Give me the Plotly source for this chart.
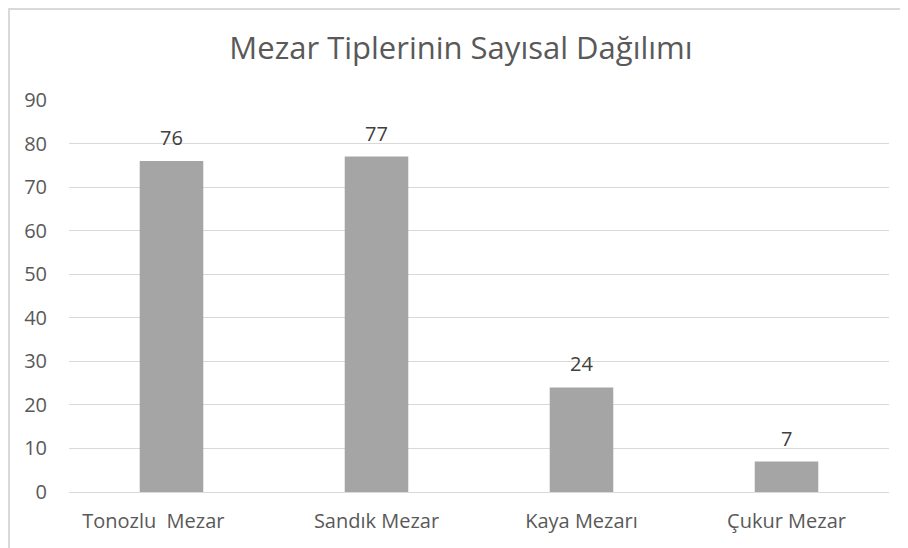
import plotly.graph_objects as go

# the first category carries trailing spaces in the source, which shifts its label left
categories = ["Tonozlu  Mezar       ", "Sandık Mezar", "Kaya Mezarı", "Çukur Mezar"]
values = [76, 77, 24, 7]
y_ticks = [0, 10, 20, 30, 40, 50, 60, 70, 80, 90]
title = "Mezar Tiplerinin Sayısal Dağılımı"

# page body has an 8px margin, so the figure is sized and placed to compensate
W, H = 900, 540
L, R, T, B = 61, 19, 92, 56
pw, ph = W - L - R, H - T - B

font = "Open Sans, Noto Sans, sans-serif"
txt = "#595959"

labels = [c.replace(" ", "\u00a0") for c in categories]

fig = go.Figure(go.Bar(
    x=labels,
    y=values,
    marker=dict(color="#a5a5a5", line=dict(width=0)),
    width=0.31,
    hoverinfo="y",
))

for c, v in zip(labels, values):
    fig.add_annotation(x=c, y=v, text=str(v), showarrow=False,
                       yanchor="bottom", yshift=8,
                       font=dict(family=font, size=20, color="#404040"))

fig.add_shape(type="rect", xref="paper", yref="paper",
              x0=(1 - L) / pw, x1=(W + 20 - L) / pw,
              y0=-(B + 20) / ph, y1=(H - 1 - B) / ph,
              line=dict(color="#d9d9d9", width=2), fillcolor="rgba(0,0,0,0)", layer="below")

fig.update_layout(
    width=W, height=H,
    margin=dict(l=L, r=R, t=T, b=B),
    paper_bgcolor="white", plot_bgcolor="white",
    title=dict(text=title, x=453 / W, xanchor="center", y=1 - 40 / H, yanchor="middle",
               font=dict(family=font, size=31, color=txt)),
    showlegend=False,
    xaxis=dict(showgrid=False, showline=False, zeroline=False, ticks="",
               tickfont=dict(family=font, size=20, color=txt), ticklabelstandoff=15),
    yaxis=dict(range=[0, 90], tickvals=y_ticks, showgrid=True, gridcolor="#d9d9d9", gridwidth=1,
               zeroline=True, zerolinecolor="#d9d9d9", zerolinewidth=1, showline=False, ticks="",
               tickfont=dict(family=font, size=20, color=txt), ticklabelstandoff=21),
)

fig.write_html("out.html")
